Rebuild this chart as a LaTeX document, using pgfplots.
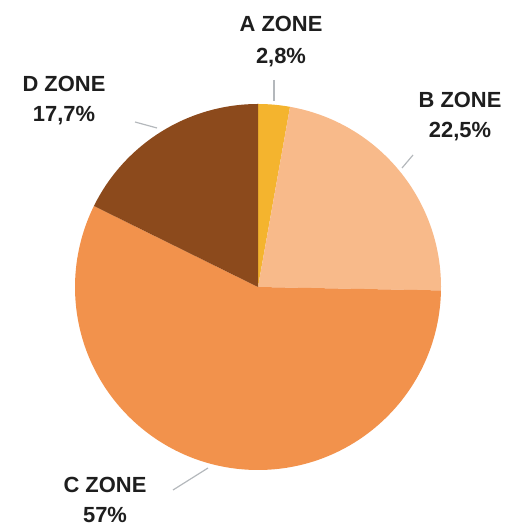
\documentclass[border=0pt]{standalone}
\usepackage{pgfplots}
\pgfplotsset{compat=1.18}
\usepackage{fontspec}
\setmainfont{Liberation Sans}
\definecolor{colA}{HTML}{F4B42E}
\definecolor{colB}{HTML}{F8BA8A}
\definecolor{colC}{HTML}{F2924C}
\definecolor{colD}{HTML}{8C4A1C}
\definecolor{txt}{HTML}{1E1E1E}
\definecolor{lead}{HTML}{B4B8BC}
\begin{document}
\begin{tikzpicture}
\begin{axis}[
  scale only axis, width=513bp, height=530bp,
  xmin=0, xmax=513, ymin=0, ymax=530,
  hide axis, clip=false]
\path (axis cs:0,0) rectangle (axis cs:513,530);
\xdef\cum{0}
\foreach \v/\c in {2.8/colA,22.5/colB,57/colC,17.7/colD}{
  \pgfmathsetmacro{\s}{90-3.6*\cum}
  \pgfmathsetmacro{\e}{90-3.6*(\cum+\v)}
  \edef\tmp{\noexpand\fill[\c] (axis cs:258,243) -- ++(\s:183bp) arc[start angle=\s, end angle=\e, radius=183bp] -- cycle;}
  \tmp
  \pgfmathsetmacro{\newcum}{\cum+\v}
  \xdef\cum{\newcum}
}
\draw[lead, line width=1.2bp] (axis cs:274,450) -- (axis cs:274,429);
\draw[lead, line width=1.2bp] (axis cs:413,375) -- (axis cs:402,362);
\draw[lead, line width=1.2bp] (axis cs:135,408) -- (axis cs:157,402);
\draw[lead, line width=1.2bp] (axis cs:173,40) -- (axis cs:208,62);
\tikzset{lbl/.style={anchor=base, inner sep=0pt, font=\fontsize{22}{24}\selectfont\bfseries, text=txt}}
\node[lbl] at (axis cs:281,498) {A ZONE};
\node[lbl] at (axis cs:281,466) {2,8\%};
\node[lbl] at (axis cs:460,422) {B ZONE};
\node[lbl] at (axis cs:460,392) {22,5\%};
\node[lbl] at (axis cs:64,438) {D ZONE};
\node[lbl] at (axis cs:64,408) {17,7\%};
\node[lbl] at (axis cs:105,37) {C ZONE};
\node[lbl] at (axis cs:105,7) {57\%};
\end{axis}
\end{tikzpicture}
\end{document}
